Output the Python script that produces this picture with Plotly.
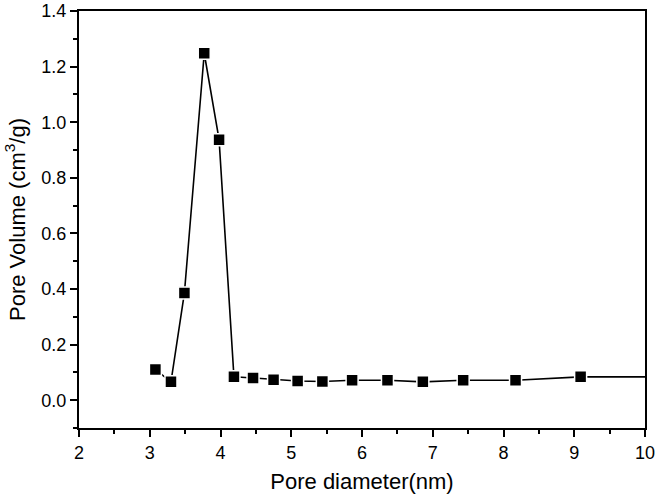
import plotly.graph_objects as go

# pore size distribution
pore_diameter = [3.08, 3.30, 3.49, 3.77, 3.98, 4.19, 4.46, 4.75, 5.09, 5.44,
                 5.86, 6.36, 6.86, 7.43, 8.17, 9.09, 11.0]
pore_volume = [0.110, 0.066, 0.386, 1.248, 0.937, 0.084, 0.080, 0.074, 0.069, 0.067,
               0.072, 0.072, 0.066, 0.072, 0.072, 0.084, 0.084]

x_ticks = [2, 3, 4, 5, 6, 7, 8, 9, 10]
y_ticks = [0.0, 0.2, 0.4, 0.6, 0.8, 1.0, 1.2, 1.4]

fig = go.Figure()
fig.add_trace(go.Scatter(
    x=pore_diameter, y=pore_volume, mode="lines+markers",
    line=dict(color="black", width=1.6),
    marker=dict(symbol="square", size=12, color="black",
                line=dict(color="white", width=1.5)),
    cliponaxis=True, showlegend=False,
))

font = "Liberation Sans, Arial, sans-serif"
fig.update_layout(
    width=656, height=500,
    margin=dict(l=79, r=11, t=11, b=72, autoexpand=False),
    plot_bgcolor="white", paper_bgcolor="white",
    font=dict(family=font, color="black", size=18),
)
fig.update_xaxes(
    range=[2, 10], tickvals=x_ticks, ticktext=[str(v) for v in x_ticks],
    showgrid=False, zeroline=False, automargin=False,
    showline=True, linecolor="black", linewidth=2, mirror=True,
    ticks="outside", ticklen=7, tickwidth=2, tickcolor="black",
    minor=dict(dtick=0.5, ticks="outside", ticklen=4, tickwidth=2, tickcolor="black"),
    tickfont=dict(size=18),
    title=dict(text="Pore diameter(nm)", font=dict(size=22), standoff=12),
)
fig.update_yaxes(
    range=[-0.1, 1.4], tickvals=y_ticks, ticktext=[f"{v:.1f}" for v in y_ticks],
    showgrid=False, zeroline=False, automargin=False,
    showline=True, linecolor="black", linewidth=2, mirror=True,
    ticks="outside", ticklen=7, tickwidth=2, tickcolor="black",
    minor=dict(dtick=0.1, tick0=0, ticks="outside", ticklen=4, tickwidth=2, tickcolor="black"),
    tickfont=dict(size=18),
    title=dict(text="Pore Volume (cm<sup>3</sup>/g)", font=dict(size=22), standoff=10),
)

fig.write_html("out.html", config={"displayModeBar": False},
               post_script="document.body.style.margin='0';document.body.style.padding='0';")
